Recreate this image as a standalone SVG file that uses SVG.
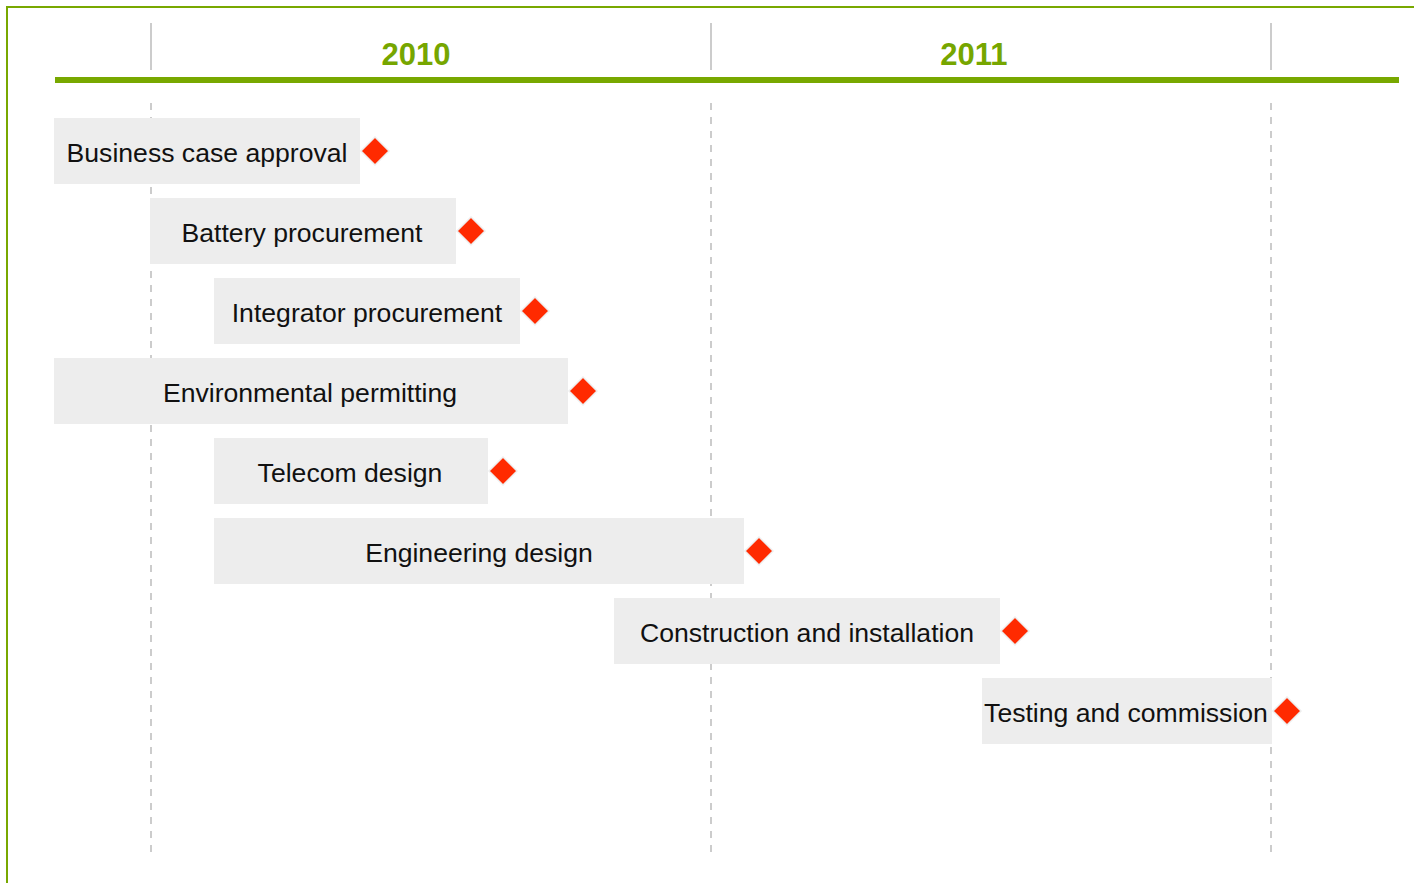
<svg xmlns="http://www.w3.org/2000/svg" width="1414" height="883" viewBox="0 0 1414 883">
  <style>
    .frame { fill: none; stroke: #78a800; stroke-width: 2; }
    .axis { stroke: #78a800; stroke-width: 6; }
    .tick { stroke: #cccccc; stroke-width: 2; }
    .grid { stroke: #cccccc; stroke-width: 2; stroke-dasharray: 7 7; }
    .year { font-family: "Liberation Sans", Arial, sans-serif; font-size: 31px; font-weight: bold; fill: #76a600; text-anchor: middle; }
    .bar { fill: #ededed; }
    .label { font-family: "Liberation Sans", Arial, sans-serif; font-size: 26.6px; fill: #111111; text-anchor: middle; }
    .milestone { fill: #ff2a00; stroke: #eeeeee; stroke-width: 1.5; }
  </style>
  <defs>
    <polygon id="diamond" class="milestone" points="0,-14 14,0 0,14 -14,0"/>
  </defs>

  <rect width="1414" height="883" fill="#ffffff"/>
  <rect class="frame" x="7" y="7" width="1420" height="890"/>

  <!-- timeline header -->
  <g id="header">
    <line class="tick" x1="151" y1="23" x2="151" y2="70"/>
    <line class="tick" x1="711" y1="23" x2="711" y2="70"/>
    <line class="tick" x1="1271" y1="23" x2="1271" y2="70"/>
    <text class="year" x="416" y="65">2010</text>
    <text class="year" x="974" y="65">2011</text>
    <line class="axis" x1="55" y1="80" x2="1399" y2="80"/>
  </g>

  <!-- year gridlines -->
  <g id="connectors">
    <line class="grid" x1="151" y1="103" x2="151" y2="853"/>
    <line class="grid" x1="711" y1="103" x2="711" y2="853"/>
    <line class="grid" x1="1271" y1="103" x2="1271" y2="853"/>
  </g>

  <g id="task-business-case">
    <rect class="bar" x="54" y="118" width="306" height="66"/>
    <text class="label" x="207" y="162">Business case approval</text>
    <use href="#diamond" x="375" y="151"/>
  </g>
  <g id="task-battery">
    <rect class="bar" x="150" y="198" width="306" height="66"/>
    <text class="label" x="302" y="242">Battery procurement</text>
    <use href="#diamond" x="471" y="231"/>
  </g>
  <g id="task-integrator">
    <rect class="bar" x="214" y="278" width="306" height="66"/>
    <text class="label" x="367" y="322">Integrator procurement</text>
    <use href="#diamond" x="535" y="311"/>
  </g>
  <g id="task-environmental">
    <rect class="bar" x="54" y="358" width="514" height="66"/>
    <text class="label" x="310" y="402">Environmental permitting</text>
    <use href="#diamond" x="583" y="391"/>
  </g>
  <g id="task-telecom">
    <rect class="bar" x="214" y="438" width="274" height="66"/>
    <text class="label" x="350" y="482">Telecom design</text>
    <use href="#diamond" x="503" y="471"/>
  </g>
  <g id="task-engineering">
    <rect class="bar" x="214" y="518" width="530" height="66"/>
    <text class="label" x="479" y="562">Engineering design</text>
    <use href="#diamond" x="759" y="551"/>
  </g>
  <g id="task-construction">
    <rect class="bar" x="614" y="598" width="386" height="66"/>
    <text class="label" x="807" y="642">Construction and installation</text>
    <use href="#diamond" x="1015" y="631"/>
  </g>
  <g id="task-testing">
    <rect class="bar" x="982" y="678" width="290" height="66"/>
    <text class="label" x="1126" y="722">Testing and commission</text>
    <use href="#diamond" x="1287" y="711"/>
  </g>
</svg>
